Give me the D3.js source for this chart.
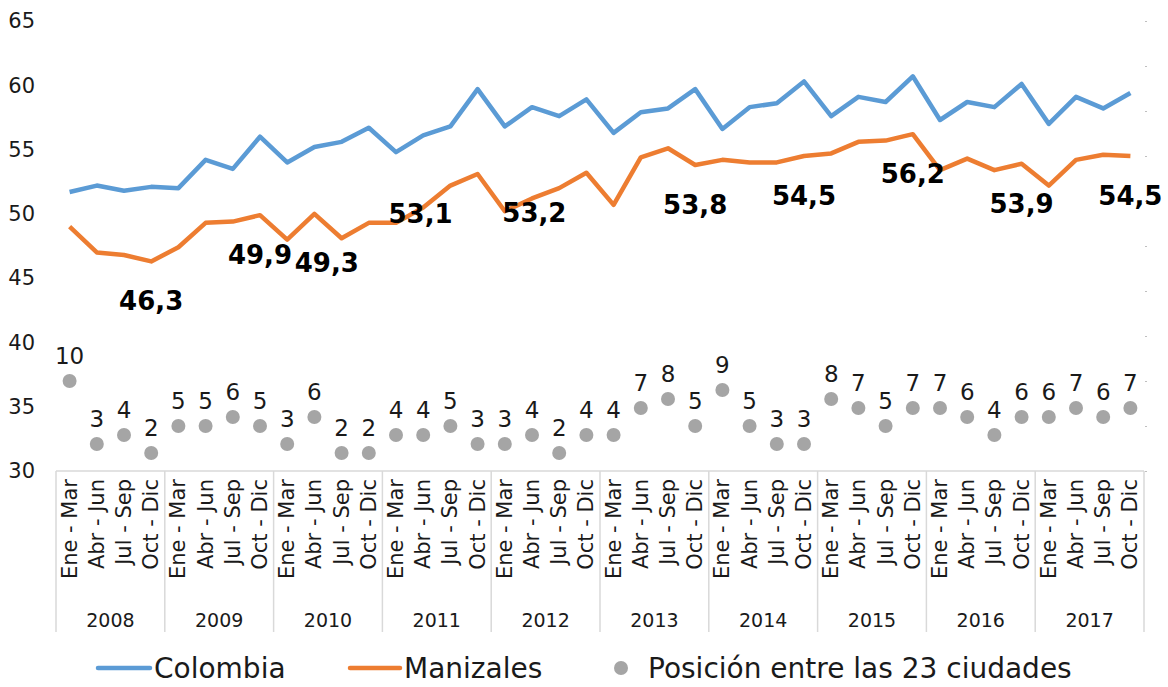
<!DOCTYPE html>
<html>
<head>
<meta charset="utf-8">
<script src="https://cdn.jsdelivr.net/npm/d3@7"></script>
<style>
  body { margin: 0; background: #fff; }
  text { font-family: "Century Gothic", "DejaVu Sans", sans-serif; }
</style>
</head>
<body>
<div id="chart"></div>
<script>
// trimestres y años
var quarters = ['Ene - Mar', 'Abr - Jun', 'Jul - Sep', 'Oct - Dic'];
var years = ['2008', '2009', '2010', '2011', '2012', '2013', '2014', '2015', '2016', '2017'];

// series
var colombia = [
  51.7, 52.2, 51.8, 52.1,
  52.0, 54.2, 53.5, 56.0,
  54.0, 55.2, 55.6, 56.7,
  54.8, 56.1, 56.8, 59.7,
  56.8, 58.3, 57.6, 58.9,
  56.3, 57.9, 58.2, 59.7,
  56.6, 58.3, 58.6, 60.3,
  57.6, 59.1, 58.7, 60.7,
  57.3, 58.7, 58.3, 60.1,
  57.0, 59.1, 58.2, 59.4
];
var manizales = [
  49.0, 47.0, 46.8, 46.3,
  47.4, 49.3, 49.4, 49.9,
  48.0, 50.0, 48.1, 49.3,
  49.3, 50.5, 52.2, 53.1,
  50.2, 51.2, 52.0, 53.2,
  50.7, 54.4, 55.1, 53.8,
  54.2, 54.0, 54.0, 54.5,
  54.7, 55.6, 55.7, 56.2,
  53.4, 54.3, 53.4, 53.9,
  52.2, 54.2, 54.6, 54.5
];
var posicion = [
  10, 3, 4, 2,
  5, 5, 6, 5,
  3, 6, 2, 2,
  4, 4, 5, 3,
  3, 4, 2, 4,
  4, 7, 8, 5,
  9, 5, 3, 3,
  8, 7, 5, 7,
  7, 6, 4, 6,
  6, 7, 6, 7
];
var yTicks = [30, 35, 40, 45, 50, 55, 60, 65];

var width = 1168;
var height = 687;

var svg = d3.select('#chart')
  .append('svg')
  .attr('width', width)
  .attr('height', height)

var periods = [];
years.forEach(y => quarters.forEach(q => periods.push({ year: y, quarter: q })));

var x = d3.scaleBand()
  .domain(d3.range(periods.length))
  .range([56, 1144])

var cx = i => x(i) + x.bandwidth() / 2;

var y = d3.scaleLinear()
  .domain([30, 65])
  .range([471, 21])

// eje secundario para la posición
var y2 = d3.scaleLinear()
  .domain([0, 50])
  .range([471, 21])

// eje izquierdo
var yAxis = svg.append('g')
  .attr('transform', 'translate(37,0)')
  .call(d3.axisLeft(y).tickValues(yTicks).tickSize(0).tickPadding(2))
yAxis.select('.domain').remove()
yAxis.selectAll('text')
  .style('font-size', '21px')
  .style('fill', '#1a1a1a')
  .style('font-family', '"Century Gothic", "DejaVu Sans", sans-serif')

// eje derecho (sin etiquetas)
var y2Axis = svg.append('g')
  .attr('transform', 'translate(1145,0)')
  .call(d3.axisRight(y2).ticks(10).tickSize(2).tickFormat(''))
y2Axis.select('.domain').remove()
y2Axis.selectAll('line').attr('stroke', '#bfbfbf')

// eje de categorías con dos niveles
var catAxis = svg.append('g')
catAxis.append('line')
  .attr('x1', 56).attr('x2', 1144)
  .attr('y1', 471).attr('y2', 471)
  .attr('stroke', '#d9d9d9').attr('stroke-width', 1.5)

var yearEdges = d3.range(years.length + 1).map(k => k === years.length ? x.range()[1] : x(k * 4));
catAxis.selectAll('.sep')
  .data(yearEdges)
  .enter()
  .append('line')
  .attr('x1', d => d).attr('x2', d => d)
  .attr('y1', 471).attr('y2', 632)
  .attr('stroke', '#d9d9d9').attr('stroke-width', 1.5)

catAxis.selectAll('.q')
  .data(periods)
  .enter()
  .append('text')
  .attr('transform', (d, i) => 'translate(' + (cx(i) + 7) + ',479) rotate(-90)')
  .attr('text-anchor', 'end')
  .style('font-size', '21px')
  .style('fill', '#1a1a1a')
  .text(d => d.quarter)

catAxis.selectAll('.yr')
  .data(years)
  .enter()
  .append('text')
  .attr('x', (d, k) => (yearEdges[k] + yearEdges[k + 1]) / 2)
  .attr('y', 627)
  .attr('text-anchor', 'middle')
  .style('font-size', '19px')
  .style('fill', '#1a1a1a')
  .text(d => d)

// líneas
var lineGen = d3.line()
  .x((d, i) => cx(i))
  .y(d => y(d))

svg.append('path')
  .datum(colombia)
  .attr('d', lineGen)
  .attr('fill', 'none')
  .attr('stroke', '#5b9bd5')
  .attr('stroke-width', 4.5)
  .attr('stroke-linejoin', 'round')

svg.append('path')
  .datum(manizales)
  .attr('d', lineGen)
  .attr('fill', 'none')
  .attr('stroke', '#ed7d31')
  .attr('stroke-width', 4.5)
  .attr('stroke-linejoin', 'round')

// etiquetas de Manizales en el último trimestre de cada año
var nudge = { 2: -42, 3: -57, 4: -52 };
var q4 = years.map((yr, k) => ({ k: k, i: k * 4 + 3, v: manizales[k * 4 + 3] }));
svg.selectAll('.mlab')
  .data(q4)
  .enter()
  .append('text')
  .attr('x', d => cx(d.i) + (nudge[d.k] || 0))
  .attr('y', d => y(d.v) + 49)
  .attr('text-anchor', 'middle')
  .style('font-size', '26px')
  .style('font-weight', 'bold')
  .style('fill', '#000')
  .text(d => d3.format('.1f')(d.v).replace('.', ','))

// puntos de posición
svg.selectAll('.dot')
  .data(posicion)
  .enter()
  .append('circle')
  .attr('cx', (d, i) => cx(i))
  .attr('cy', d => y2(d))
  .attr('r', 7)
  .attr('fill', '#a5a5a5')

svg.selectAll('.plab')
  .data(posicion)
  .enter()
  .append('text')
  .attr('x', (d, i) => cx(i))
  .attr('y', d => y2(d) - 17)
  .attr('text-anchor', 'middle')
  .style('font-size', '23px')
  .style('fill', '#1a1a1a')
  .text(d => d)

// leyenda
var legend = svg.append('g').attr('transform', 'translate(0,668)')
legend.append('line')
  .attr('x1', 98).attr('x2', 150).attr('y1', 0).attr('y2', 0)
  .attr('stroke', '#5b9bd5').attr('stroke-width', 4.5).attr('stroke-linecap', 'round')
legend.append('text')
  .attr('x', 154).attr('y', 10)
  .style('font-size', '28px').style('fill', '#1a1a1a')
  .text('Colombia')
legend.append('line')
  .attr('x1', 350).attr('x2', 400).attr('y1', 0).attr('y2', 0)
  .attr('stroke', '#ed7d31').attr('stroke-width', 4.5).attr('stroke-linecap', 'round')
legend.append('text')
  .attr('x', 404).attr('y', 10)
  .style('font-size', '28px').style('fill', '#1a1a1a')
  .text('Manizales')
legend.append('circle')
  .attr('cx', 621).attr('cy', 0).attr('r', 7)
  .attr('fill', '#a5a5a5')
legend.append('text')
  .attr('x', 648).attr('y', 10)
  .style('font-size', '28px').style('fill', '#1a1a1a')
  .text('Posición entre las 23 ciudades')
</script>
</body>
</html>
